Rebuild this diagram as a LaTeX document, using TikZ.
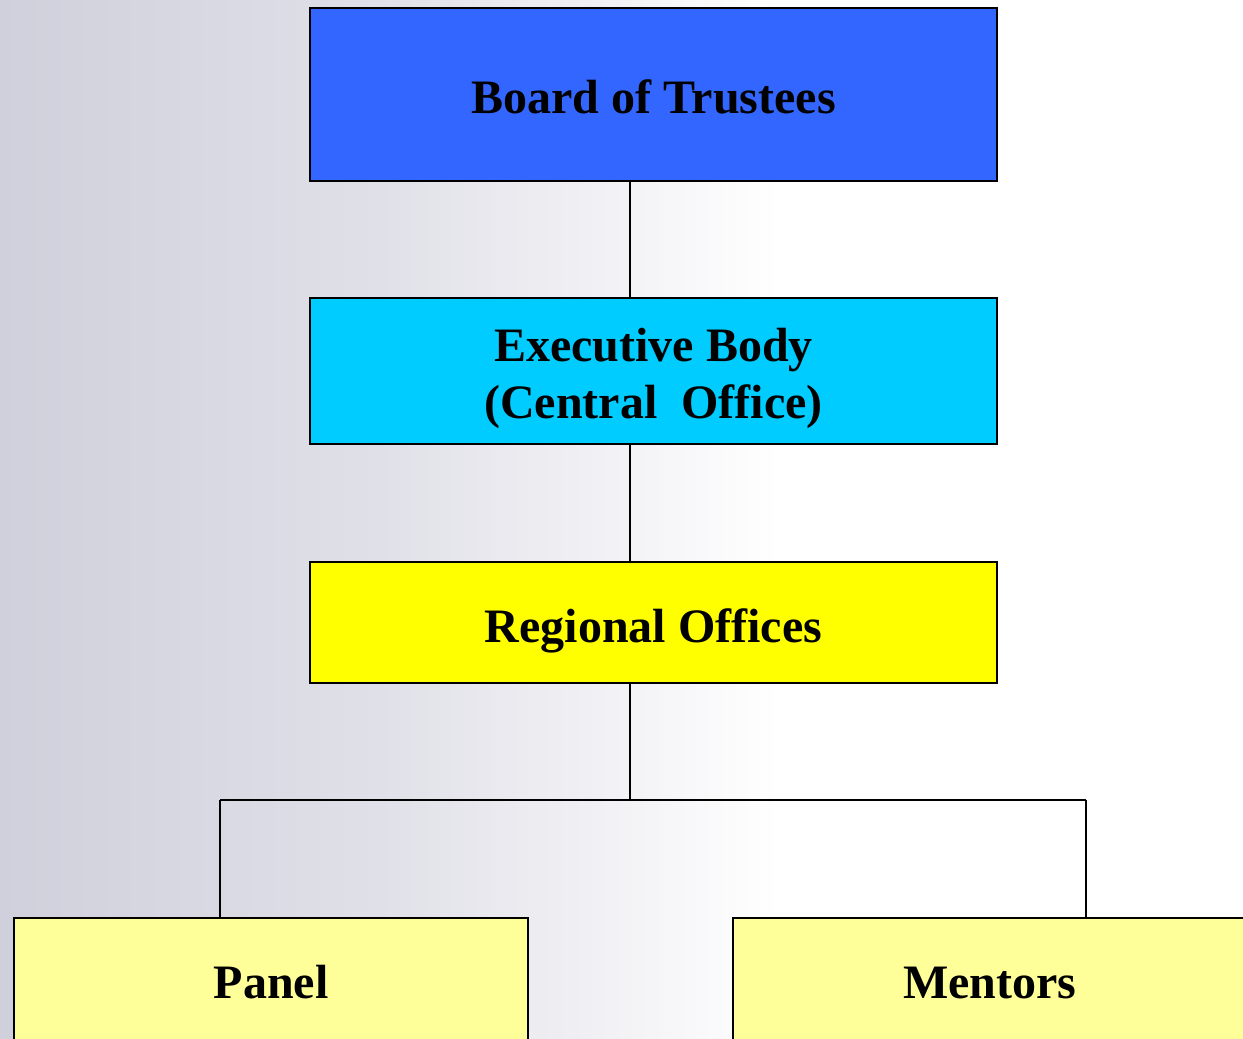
\documentclass[tikz,border=0pt]{standalone}
\usepackage{fontspec}
\setmainfont{Liberation Serif}
\definecolor{bgL}{RGB}{208,208,220}
\definecolor{bgM}{RGB}{224,224,232}
\definecolor{boardC}{RGB}{51,102,255}
\definecolor{execC}{RGB}{0,204,255}
\definecolor{regC}{RGB}{255,255,0}
\definecolor{leafC}{RGB}{255,255,153}
\begin{document}
\begin{tikzpicture}[x=1pt,y=-1pt,
  boxfont/.style={font=\fontsize{48}{57}\selectfont\bfseries},
  box/.style={draw=black,line width=2.6pt,inner sep=0pt,align=center,
    text height=40pt,text depth=3pt,boxfont},
  conn/.style={draw=black,line width=2pt}]
\useasboundingbox (0,0) rectangle (1243,1039);
\clip (0,0) rectangle (1243,1039);
\fill[white] (0,0) rectangle (1243,1039);
\shade[left color=bgL,right color=bgM] (0,0) rectangle (380,1039);
\shade[left color=bgM,right color=white] (380,0) rectangle (780,1039);
\node[box,fill=boardC,minimum width=687pt,minimum height=173pt] (board) at (653.5,94.5) {Board of Trustees};
\node[draw=black,line width=2.6pt,inner sep=0pt,fill=execC,minimum width=687pt,minimum height=146pt] (exec) at (653.5,371) {};
\node[boxfont,align=center,inner sep=0pt] (execT) at (653.5,378) {Executive Body\\(Central\ \ Office)};
\node[box,fill=regC,minimum width=687pt,minimum height=121pt,text height=41pt,text depth=2pt] (reg) at (653.5,622.5) {Regional Offices};
\node[box,fill=leafC,minimum width=514pt,minimum height=128pt,text height=36pt,text depth=4pt] (panel) at (271,982) {Panel};
\node[box,fill=leafC,minimum width=514pt,minimum height=128pt,text height=36pt,text depth=4pt] (mentors) at (990,982) {Mentors};
\coordinate (fork) at (630,800);
\draw[conn] (board.south -| fork) -- (exec.north -| fork);
\draw[conn] (exec.south -| fork) -- (reg.north -| fork);
\draw[conn] (reg.south -| fork) -- (fork);
\draw[conn] (220,800) -- (1086,800);
\draw[conn] (220,800) -- (panel.north -| 220,0);
\draw[conn] (1086,800) -- (mentors.north -| 1086,0);
\end{tikzpicture}
\end{document}
